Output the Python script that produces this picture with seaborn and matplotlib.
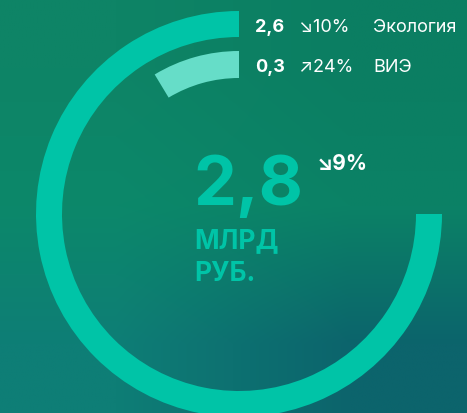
import numpy as np
import matplotlib
matplotlib.use("Agg")
import matplotlib.pyplot as plt
import seaborn as sns

# data
categories = ["Экология", "ВИЭ"]
values = [2.6, 0.3]
value_labels = ["2,6", "0,3"]
changes = ["↘10%", "↗24%"]
total_label = "2,8"
total_change = "↘9%"
unit_lines = ["МЛРД", "РУБ."]

sns.set_style("white")
plt.rcParams["font.family"] = ["Inter", "DejaVu Sans"]

W, H = 467, 414
DPI = 100
scale_max = 2.6 / 0.75          # 2.6 fills three quarters of the circle
colors = ["#00C4A7", "#66DDC8"]
ring_inner = [177, 136]
ring_width = [26, 27]
cx, cy = 239, 215               # ring centre, px from top-left
R = 215                         # polar axes radius in px

fig = plt.figure(figsize=(W / DPI, H / DPI), dpi=DPI)

# background gradient
bg = fig.add_axes([0, 0, 1, 1])
corners = np.array([[[14, 132, 102], [11, 126, 98]],
                    [[12, 136, 106], [11, 130, 102]],
                    [[14, 126, 118], [12, 100, 108]]]) / 255.0
bg.imshow(corners, extent=[0, 1, 0, 1], interpolation="bilinear", aspect="auto")
bg.axis("off")

# rings
ax = fig.add_axes([(cx - R) / W, (H - cy - R) / H, 2 * R / W, 2 * R / H],
                  projection="polar")
ax.set_theta_zero_location("N")
ax.set_theta_direction(1)
ax.set_ylim(0, R)
for v, c, r0, w in zip(values, colors, ring_inner, ring_width):
    ax.bar(0, w, width=v / scale_max * 2 * np.pi, bottom=r0, align="edge",
           color=c, linewidth=0)
ax.axis("off")
ax.patch.set_alpha(0)

def put(x, y, s, **kw):
    fig.text(x / W, 1 - y / H, s, **kw)

# legend rows
for i, (lab, ch, cat) in enumerate(zip(value_labels, changes, categories)):
    y = 27 + i * 40
    put(255, y, lab, color="white", fontsize=13, fontweight="bold", va="center")
    put(299, y, ch, color="white", fontsize=13, va="center")
    put(373, y, cat, color="white", fontsize=13, va="center")

# centre text
put(193, 205, total_label, color="#00C4A7", fontsize=49, fontweight="bold", va="baseline")
put(317, 170, total_change, color="white", fontsize=15, fontweight="bold", va="baseline")
put(194, 248, unit_lines[0], color="#00C4A7", fontsize=19, fontweight="bold", va="baseline")
put(194, 281, unit_lines[1], color="#00C4A7", fontsize=19, fontweight="bold", va="baseline")

fig.savefig("out.png", dpi=DPI)
